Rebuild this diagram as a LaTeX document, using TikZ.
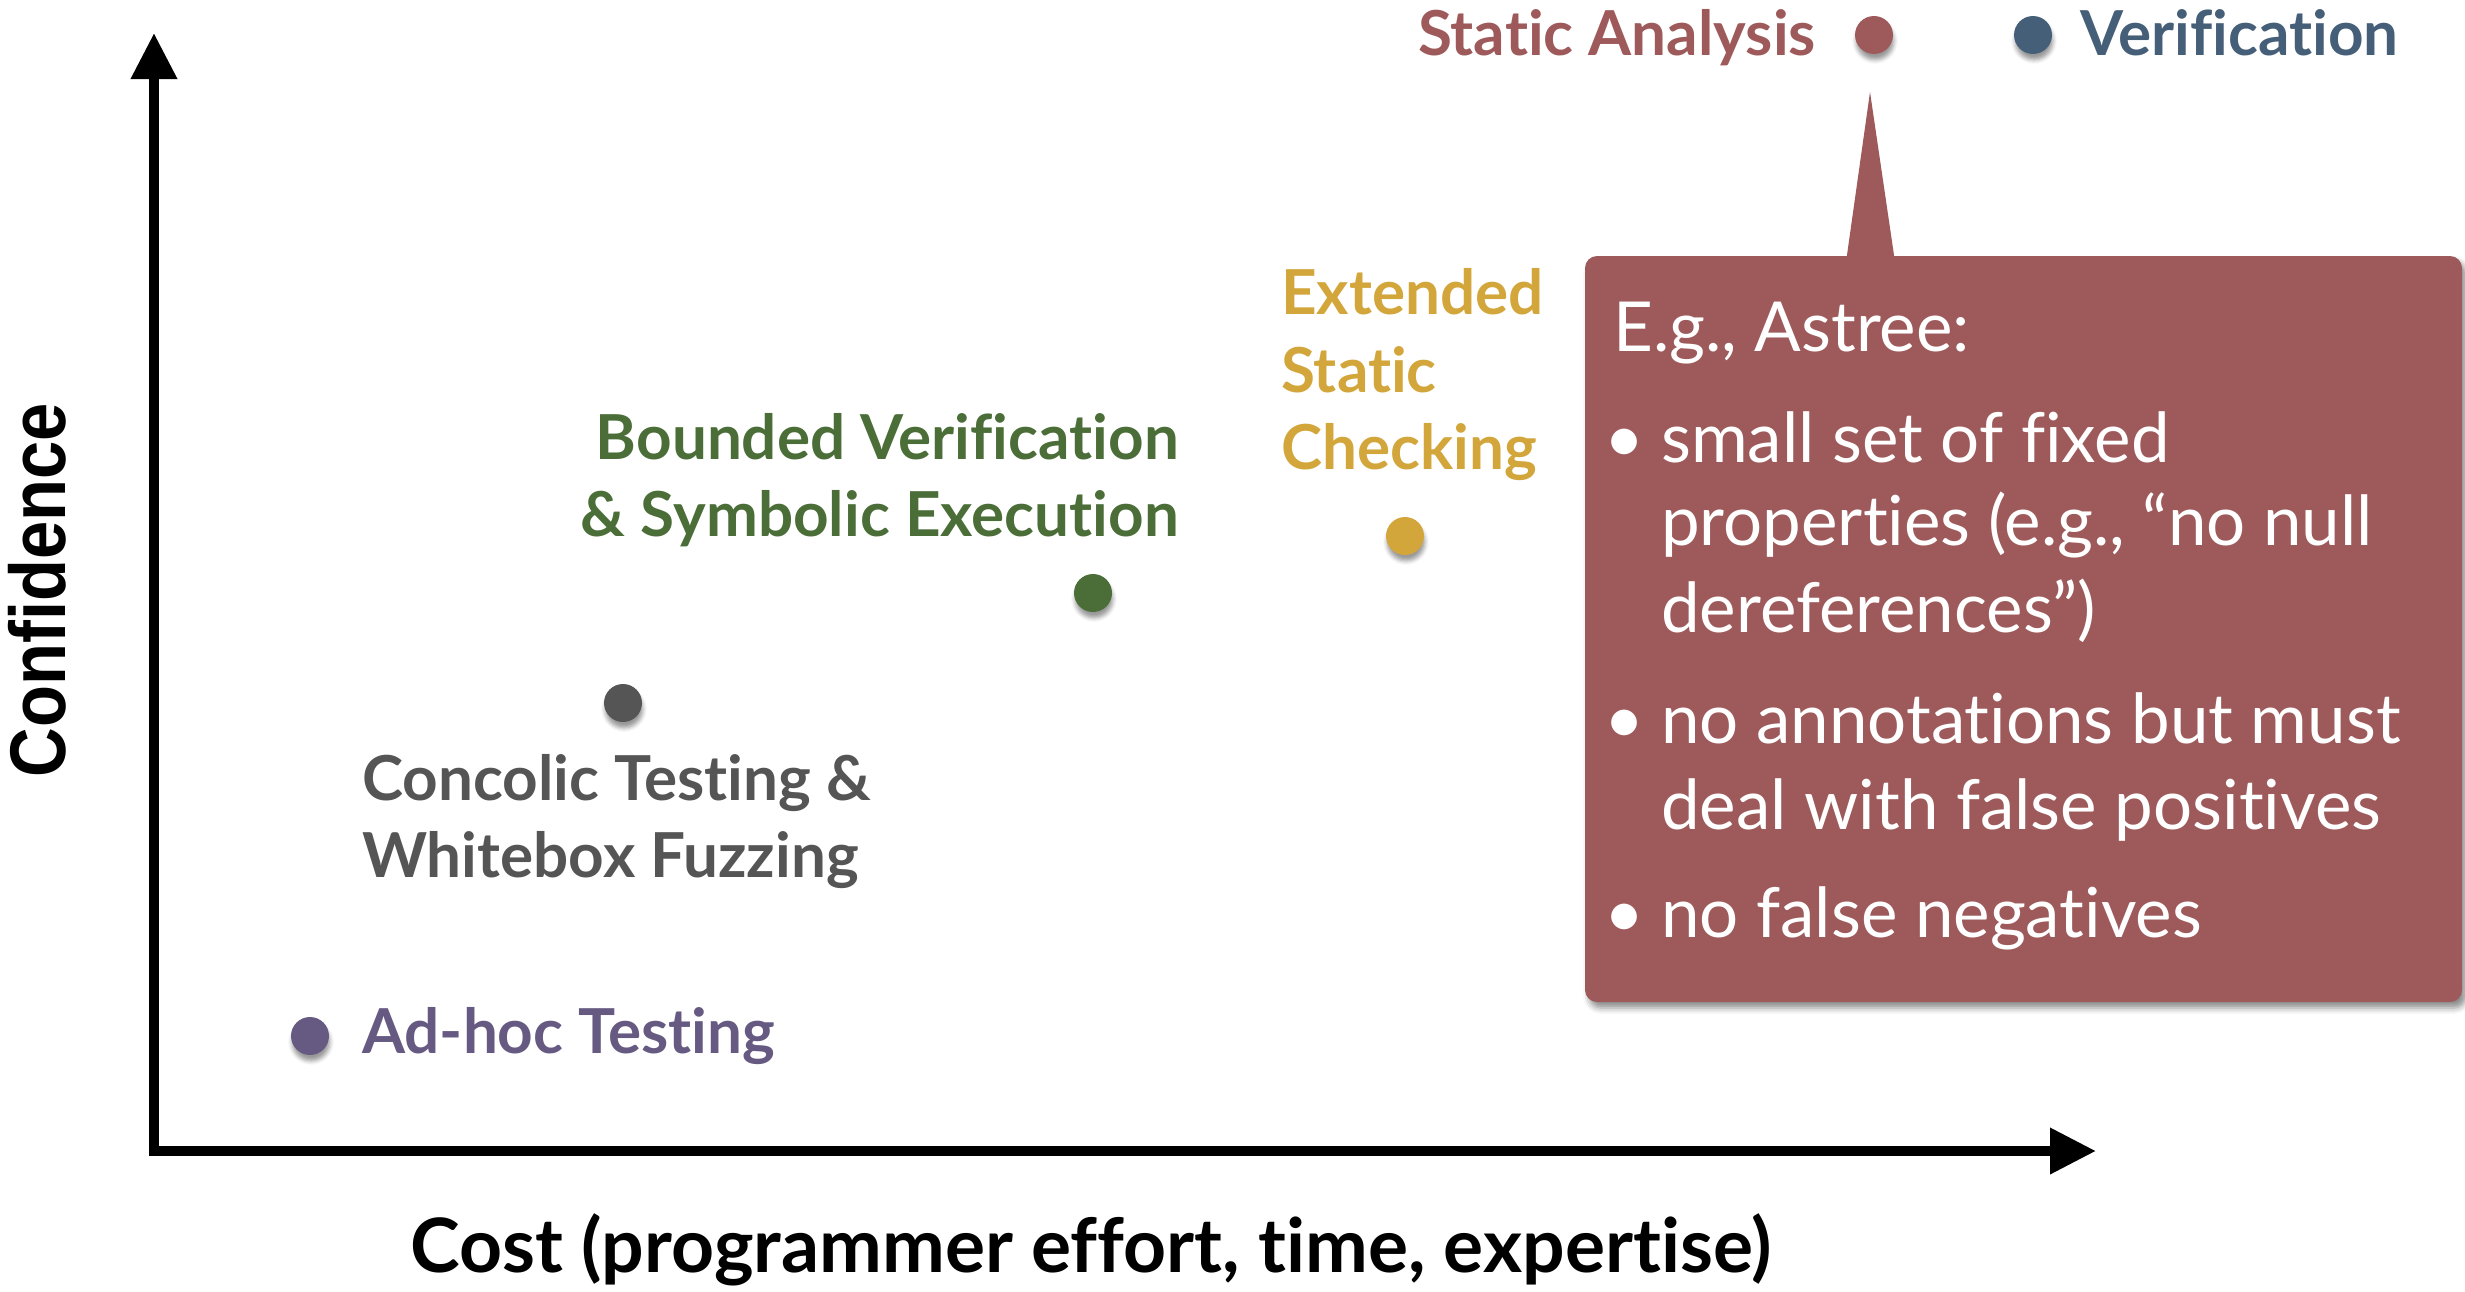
\documentclass[tikz,border=0pt]{standalone}
\usepackage{fontspec}
\setmainfont{Lato}[Ligatures=NoCommon]
\newfontfamily\condfont[FakeStretch=0.87]{Liberation Sans}
\usetikzlibrary{arrows.meta,shadows.blur}
\definecolor{cRed}{HTML}{9E5A5B}
\definecolor{cBlue}{HTML}{465F78}
\definecolor{cGold}{HTML}{D3A63C}
\definecolor{cGreen}{HTML}{4B6E38}
\definecolor{cGrey}{HTML}{555555}
\definecolor{cPurple}{HTML}{665A82}
\tikzset{
  lbl/.style={inner sep=0pt, font=\fontsize{62}{74}\selectfont\bfseries},
  boxtxt/.style={inner sep=0pt, text=white, font=\fontsize{69}{80}\selectfont},
  dotmark/.style={circle, inner sep=0pt, minimum size=38pt, draw=none,
    blur shadow={shadow xshift=1pt, shadow yshift=-6pt, shadow opacity=40, shadow blur radius=4pt}},
  axisline/.style={line width=10pt, line join=miter,
    {Triangle[width=44pt,length=46pt]}-{Triangle[width=44pt,length=46pt]}},
}
\begin{document}
\begin{tikzpicture}[x=1pt,y=-1pt]
\useasboundingbox (0,0) rectangle (2465,1291);
% axes
\coordinate (Ytop) at (154,33);
\coordinate (O) at (154,1151);
\coordinate (Xend) at (2096,1151);
\draw[axisline] (Ytop) -- (O) -- (Xend);
\node[inner sep=0pt, rotate=90, font=\fontsize{79}{84}\selectfont\condfont\bfseries] (conf) at (37,590) {Confidence};
\node[inner sep=0pt, anchor=base, font=\fontsize{75}{86}\selectfont\bfseries] (cost) at (1091,1272) {Cost (programmer effort, time, expertise)};
% callout
\path[fill=cRed, rounded corners=12pt,
  blur shadow={shadow xshift=4pt, shadow yshift=-6pt, shadow opacity=45, shadow blur radius=6pt}]
  (1585,256) rectangle (2462,1002);
\coordinate (tip) at (1870,92);
\coordinate (pl) at (1846,262);
\coordinate (pr) at (1895,262);
\fill[cRed] (pl) -- (tip) -- (pr) -- cycle;
% dots
\node[dotmark, fill=cRed] (dSA) at (1874,35) {};
\node[dotmark, fill=cBlue] (dV) at (2033,35) {};
\node[dotmark, fill=cGold] (dESC) at (1405,536) {};
\node[dotmark, fill=cGreen] (dBV) at (1093,593) {};
\node[dotmark, fill=cGrey] (dCT) at (623,703) {};
\node[dotmark, fill=cPurple] (dAH) at (310,1036) {};
% labels
\node[lbl, text=cRed, anchor=base east] (tSA) at (1816,55) {Static Analysis};
\node[lbl, text=cBlue, anchor=base west] (tV) at (2080,55) {Verification};
\node[lbl, text=cGold, anchor=base west] (tE1) at (1281,314) {Extended};
\node[lbl, text=cGold, anchor=base west] (tE2) at (1281,392) {Static};
\node[lbl, text=cGold, anchor=base west] (tE3) at (1281,469) {Checking};
\node[lbl, text=cGreen, anchor=base east] (tB1) at (1179,459) {Bounded Verification};
\node[lbl, text=cGreen, anchor=base east] (tB2) at (1179,536) {\& Symbolic Execution};
\node[lbl, text=cGrey, anchor=base west] (tC1) at (362,800) {Concolic Testing \&};
\node[lbl, text=cGrey, anchor=base west] (tC2) at (362,877) {Whitebox Fuzzing};
\node[lbl, text=cPurple, anchor=base west] (tA) at (362,1053) {Ad-hoc Testing};
% callout text
\node[boxtxt, anchor=base west] (h) at (1613,351) {E.g., Astree:};
\node[boxtxt, anchor=base] (b1) at (1624,462) {•};
\node[boxtxt, anchor=base west] (l1) at (1661,462) {small set of fixed};
\node[boxtxt, anchor=base west] (l2) at (1661,545) {properties (e.g., “no null};
\node[boxtxt, anchor=base west] (l3) at (1661,632) {dereferences”)};
\node[boxtxt, anchor=base] (b2) at (1624,743) {•};
\node[boxtxt, anchor=base west] (l4) at (1661,743) {no annotations but must};
\node[boxtxt, anchor=base west] (l5) at (1661,829) {deal with false positives};
\node[boxtxt, anchor=base] (b3) at (1624,937) {•};
\node[boxtxt, anchor=base west] (l6) at (1661,937) {no false negatives};
\end{tikzpicture}
\end{document}
